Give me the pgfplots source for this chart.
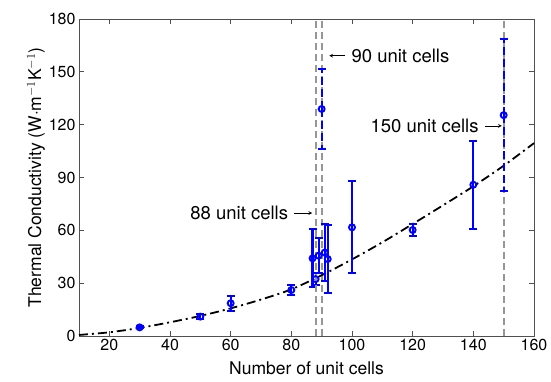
\documentclass[border=0pt]{standalone}
\usepackage{pgfplots}
\pgfplotsset{compat=1.18}
\usepackage{fontspec}
\setmainfont{TeX Gyre Heros}
\definecolor{mblue}{RGB}{0,0,255}
\definecolor{vgray}{RGB}{150,150,150}
\definecolor{axgray}{RGB}{80,80,80}
\begin{document}
\begin{tikzpicture}
\begin{axis}[
  name=ax,
  scale only axis,
  width=455pt, height=317pt,
  xmin=10, xmax=160, ymin=0, ymax=180,
  xtick={20,40,...,160}, ytick={0,30,...,180},
  tick align=inside,
  major tick length=5pt,
  axis line style={axgray, line width=0.8pt},
  every tick/.style={axgray, line width=0.8pt},
  /pgf/number format/assume math mode=true,
  ticklabel style={font=\fontsize{16}{18}\selectfont},
  label style={font=\fontsize{17.5}{20}\selectfont},
  xlabel={Number of unit cells},
  ylabel={Thermal Conductivity (W$\cdot$m$^{-1}$K$^{-1}$)},
  xlabel style={yshift=-4pt},
  ylabel style={yshift=-3pt},
  clip=false,
]
% vertical reference lines at 90 and 150 (behind)
\addplot[vgray, line width=2pt, dash pattern=on 7pt off 4pt] coordinates {(90,0)(90,180)};
\addplot[vgray, line width=2pt, dash pattern=on 7pt off 4pt] coordinates {(150,0)(150,180)};
% fitted curve
\addplot[black, line width=1.8pt, dash pattern=on 9pt off 4pt on 2pt off 4pt, smooth]
coordinates {(10,0.6)(20,2.1)(30,4.6)(40,7.8)(50,11.4)(60,15.7)(70,20.7)(80,26.5)(90,34.5)(100,43.5)(110,53.2)(120,63.6)(130,74.2)(140,85)(150,96.7)(160,109.5)};
% data with solid error bars
\addplot[only marks, mblue, mark=o, mark size=3pt, line width=1.9pt,
  error bars/.cd, y dir=both, y explicit,
  error bar style={mblue, line width=2.2pt, solid},
  error mark options={mblue, line width=2pt, mark size=4pt, rotate=90}]
coordinates {
(30,4.9) +- (0,0.6)
(50,11.0) +- (0,1.6)
(60,18.6) +- (0,4.2)
(80,26.1) +- (0,2.7)
(87,44.1) +- (0,16.5)
(88,32.3) +- (0,3.5)
(89,45.6) +- (0,10.0)
(91,47.4) +- (0,16.2)
(92,43.7) +- (0,19.1)
(100,61.7) +- (0,26.2)
(120,60.2) +- (0,3.3)
(140,85.9) +- (0,25.0)
};
% data with dashed error bars
\addplot[only marks, mblue, mark=o, mark size=3pt, line width=1.9pt,
  error bars/.cd, y dir=both, y explicit,
  error bar style={mblue, line width=2.2pt, dash pattern=on 8pt off 4pt},
  error mark options={mblue, line width=2pt, mark size=4pt, rotate=90, solid}]
coordinates {
(90,128.9) +- (0,22.6)
(150,125.4) +- (0,43.2)
};
% vertical reference line at 88 (front)
\addplot[vgray, line width=2pt, dash pattern=on 7pt off 4pt] coordinates {(88,0)(88,180)};
% annotations
\draw[->, >=stealth, line width=0.7pt] (axis cs:81.0,69.8) -- (axis cs:86.9,69.8);
\node[anchor=east, font=\fontsize{18.5}{20}\selectfont, inner sep=0pt] at (axis cs:79.0,69.8) {88 unit cells};
\draw[->, >=stealth, line width=0.7pt] (axis cs:97.8,159.2) -- (axis cs:92.5,159.2);
\node[anchor=west, font=\fontsize{18.5}{20}\selectfont, inner sep=0pt] at (axis cs:99.8,159.2) {90 unit cells};
\draw[->, >=stealth, line width=0.7pt] (axis cs:143.8,119.3) -- (axis cs:149.4,119.3);
\node[anchor=east, font=\fontsize{18.5}{20}\selectfont, inner sep=0pt] at (axis cs:141.8,119.3) {150 unit cells};
\end{axis}
\pgfresetboundingbox
\path ([shift={(-79pt,-45pt)}]ax.south west) rectangle ([shift={(17pt,19pt)}]ax.north east);
\end{tikzpicture}
\end{document}
